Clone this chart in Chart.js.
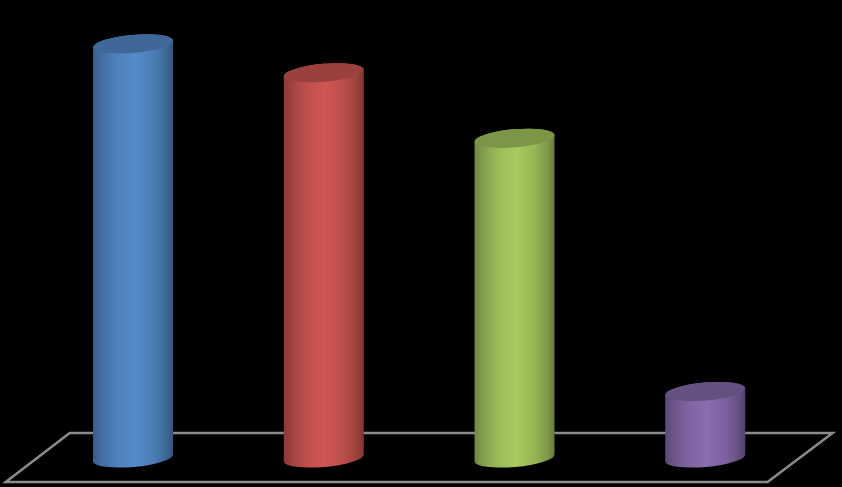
<!DOCTYPE html>
<html>
<head>
<meta charset="utf-8">
<style>
  html, body { margin: 0; padding: 0; background: #000; }
  canvas { display: block; }
</style>
<script src="https://cdn.jsdelivr.net/npm/chart.js@4"></script>
</head>
<body>
<canvas id="grafico" width="842" height="487"></canvas>
<script>
const categories = ['A', 'B', 'C', 'D'];
const seriesValues = [43, 40, 33.2, 6.9];
const barColors = ['#4f81bd', '#c0504d', '#9bbb59', '#8064a2'];

// escurece ou clareia uma cor hex
function shade(hex, f) {
  const n = parseInt(hex.slice(1), 16);
  const c = [n >> 16, (n >> 8) & 255, n & 255].map(v => Math.min(255, Math.round(v * f)));
  return `rgb(${c[0]},${c[1]},${c[2]})`;
}

const floorPlugin = {
  id: 'floor',
  beforeDatasetsDraw(chart) {
    const { ctx, chartArea, scales } = chart;
    const back = scales.y.bottom - 25;
    const front = scales.y.bottom + 24;
    ctx.save();
    ctx.strokeStyle = '#8c8c8c';
    ctx.lineWidth = 2.5;
    ctx.lineJoin = 'miter';
    ctx.beginPath();
    ctx.moveTo(chartArea.left + 32, back);
    ctx.lineTo(chartArea.right + 32, back);
    ctx.lineTo(chartArea.right - 33, front);
    ctx.lineTo(chartArea.left - 32, front);
    ctx.closePath();
    ctx.stroke();
    ctx.restore();
  }
};

const cylinderPlugin = {
  id: 'cylinder',
  afterDatasetsDraw(chart) {
    const { ctx } = chart;
    const tilt = -5 * Math.PI / 180;
    chart.getDatasetMeta(0).data.forEach((bar, i) => {
      const cor = barColors[i];
      const half = bar.width / 2;
      const rx = half / Math.cos(tilt);
      const ry = 9;
      const left = bar.x - half;
      const right = bar.x + half;

      const grad = ctx.createLinearGradient(left, 0, right, 0);
      grad.addColorStop(0, shade(cor, 0.72));
      grad.addColorStop(0.12, shade(cor, 0.86));
      grad.addColorStop(0.3, shade(cor, 1.0));
      grad.addColorStop(0.52, shade(cor, 1.08));
      grad.addColorStop(0.76, shade(cor, 0.96));
      grad.addColorStop(0.92, shade(cor, 0.8));
      grad.addColorStop(1, shade(cor, 0.66));

      ctx.save();
      ctx.fillStyle = grad;
      ctx.beginPath();
      ctx.ellipse(bar.x, bar.base, rx, ry, tilt, 0, Math.PI);
      ctx.ellipse(bar.x, bar.y, rx, ry, tilt, Math.PI, 2 * Math.PI);
      ctx.closePath();
      ctx.fill();

      ctx.fillStyle = shade(cor, 0.8);
      ctx.beginPath();
      ctx.ellipse(bar.x, bar.y, rx, ry, tilt, 0, 2 * Math.PI);
      ctx.fill();
      ctx.restore();
    });
  }
};

new Chart(document.getElementById('grafico'), {
  type: 'bar',
  data: {
    labels: categories,
    datasets: [{
      data: seriesValues,
      backgroundColor: 'rgba(0,0,0,0)',
      borderWidth: 0,
      barPercentage: 0.4195,
      categoryPercentage: 1
    }]
  },
  options: {
    responsive: false,
    animation: false,
    layout: { padding: { left: 37.7, right: 41.4, top: 5.4, bottom: 29 } },
    scales: {
      x: { display: false },
      y: { display: false, min: 0, max: 47 }
    },
    plugins: {
      legend: { display: false },
      title: { display: false },
      tooltip: { enabled: false }
    }
  },
  plugins: [floorPlugin, cylinderPlugin]
});
</script>
</body>
</html>
